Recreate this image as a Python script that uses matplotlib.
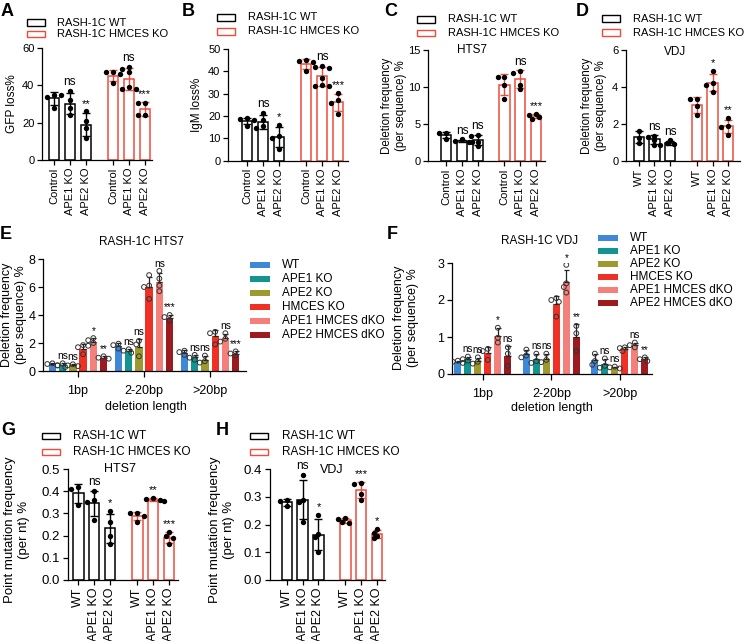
import numpy as np
import matplotlib
matplotlib.use('Agg')
import matplotlib.pyplot as plt
from matplotlib.patches import Rectangle

plt.rcParams['font.family'] = ['Liberation Sans', 'DejaVu Sans']
plt.rcParams['axes.linewidth'] = 0.9

# ---------------- DATA ----------------
series_names = ['RASH-1C WT', 'RASH-1C HMCES KO']
labels_ctrl = ['Control', 'APE1 KO', 'APE2 KO']
labels_wt = ['WT', 'APE1 KO', 'APE2 KO']

# Panel A: GFP loss%
A_wt = [[35, 34, 28, 35], [37, 32, 28, 24], [26, 21, 17, 12]]
A_ko = [[47, 47, 46, 41], [50, 49, 47, 39, 38, 38], [30.5, 30.5, 24, 24]]
A_sig_wt = ['', 'ns', '**']
A_sig_ko = ['', 'ns', '***']

# Panel B: IgM loss%
B_wt = [[19, 18.5, 18, 15.5], [21.5, 18, 15.5, 14.5], [16, 11, 10, 5]]
B_ko = [[45, 44.5, 44, 40], [42.5, 42, 41.5, 37, 34, 33.5, 33.5], [30.5, 27, 26, 21]]
B_sig_wt = ['', 'ns', '*']
B_sig_ko = ['', 'ns', '***']

# Panel C: deletion frequency HTS7
C_wt = [[3.8, 3.7, 3.0], [2.9, 2.7, 2.6, 2.5], [3.5, 3.3, 2.6, 2.0]]
C_ko = [[11.4, 11.3, 10.3, 8.3], [12.2, 11.9, 10.3, 9.7], [6.3, 6.2, 5.9, 5.7]]
C_sig_wt = ['', 'ns', 'ns']
C_sig_ko = ['', 'ns', '***']

# Panel D: deletion frequency VDJ
D_wt = [[1.6, 1.25, 0.95], [1.35, 1.3, 1.1, 0.85], [1.1, 0.95, 0.9, 0.85]]
D_ko = [[3.35, 3.35, 2.95, 2.45], [4.85, 4.2, 4.1, 3.75], [2.3, 1.9, 1.85, 1.4]]
D_sig_wt = ['', 'ns', 'ns']
D_sig_ko = ['', '*', '**']

# Panel G: point mutation HTS7
G_wt = [[0.42, 0.41, 0.34], [0.40, 0.36, 0.35, 0.27], [0.31, 0.26, 0.20, 0.16]]
G_ko = [[0.30, 0.30, 0.29, 0.26], [0.37, 0.365, 0.36, 0.355], [0.215, 0.20, 0.19, 0.16]]
G_sig_wt = ['', 'ns', '*']
G_sig_ko = ['', '**', '***']

# Panel H: point mutation VDJ
H_wt = [[0.29, 0.285, 0.265], [0.38, 0.29, 0.28, 0.21], [0.235, 0.165, 0.155, 0.10]]
H_ko = [[0.225, 0.22, 0.21, 0.205], [0.35, 0.345, 0.31, 0.29], [0.185, 0.17, 0.16, 0.15]]
H_sig_wt = ['', 'ns', '*']
H_sig_ko = ['', '***', '*']

# Panels E/F: grouped by deletion length
genotypes = ['WT', 'APE1 KO', 'APE2 KO', 'HMCES KO', 'APE1 HMCES dKO', 'APE2 HMCES dKO']
geno_colors = ['#3F88D6', '#12948F', '#9C9A2E', '#EE3124', '#F4807C', '#9B1B1F']
length_groups = ['1bp', '2-20bp', '>20bp']

E_dots = [  # [group][genotype] replicate values
    [[0.55, 0.5, 0.4], [0.55, 0.4, 0.28], [0.48, 0.4, 0.35],
     [1.85, 1.7, 1.2], [2.35, 2.2, 2.0, 1.8], [1.05, 0.95, 0.88]],
    [[1.95, 1.85, 1.6], [1.55, 1.45, 1.3], [2.15, 1.9, 1.05],
     [6.85, 6.1, 6.0, 5.15], [7.15, 6.6, 6.1, 5.7], [4.0, 3.85, 3.6]],
    [[1.45, 1.35, 1.15], [1.15, 0.95, 0.8], [1.1, 0.7, 0.6],
     [2.8, 2.7, 1.9], [2.7, 2.3, 2.1], [1.4, 1.25, 1.1]],
]
E_sig = [['', 'ns', 'ns', '', '*', '**'],
         ['', 'ns', 'ns', '', 'ns', '***'],
         ['', 'ns', 'ns', '', 'ns', '***']]

F_dots = [
    [[0.36, 0.33, 0.3], [0.47, 0.4, 0.36], [0.45, 0.33, 0.28],
     [0.68, 0.62, 0.38], [1.25, 0.98, 0.85], [0.72, 0.55, 0.22]],
    [[0.66, 0.5, 0.45], [0.55, 0.35, 0.3], [0.55, 0.38, 0.32],
     [2.05, 2.0, 1.95, 1.55], [2.95, 2.45, 2.35, 2.2], [1.3, 1.1, 0.62]],
    [[0.55, 0.35, 0.25], [0.42, 0.22, 0.17], [0.2, 0.18, 0.15],
     [0.72, 0.7, 0.62], [0.85, 0.78, 0.72], [0.45, 0.4, 0.35]],
]
F_sig = [['', 'ns', 'ns', '', '*', 'ns'],
         ['', 'ns', 'ns', '', '*', '**'],
         ['', 'ns', 'ns', '', 'ns', '**']]

RED = '#EF4B3C'

# ---------------- FIGURE ----------------
W, H = 746, 641
fig = plt.figure(figsize=(W / 100, H / 100), dpi=100)


def fx(x):
    return x / W


def fy(y):
    return 1 - y / H


def add_axes(l, t, r, b):
    ax = fig.add_axes([l / W, 1 - b / H, (r - l) / W, (b - t) / H])
    ax.spines['top'].set_visible(False)
    ax.spines['right'].set_visible(False)
    ax.tick_params(direction='out', length=3.5, width=0.9, pad=2)
    return ax


def swarm(ax, x0, vals, diam_px, step):
    """Place dots side by side when they would overlap (display-space check)."""
    placed = []
    xs = []
    bbox = ax.get_window_extent()
    x0l, x1l = ax.get_xlim()
    y0l, y1l = ax.get_ylim()
    pxx = bbox.width / (x1l - x0l)
    pxy = bbox.height / (y1l - y0l)
    cands = [0, -1, 1, -2, 2, -3, 3]
    for v in vals:
        for c in cands:
            xx = x0 + c * step
            ok = True
            for (px_, py_) in placed:
                if ((xx - px_) * pxx) ** 2 + ((v - py_) * pxy) ** 2 < (diam_px * 0.95) ** 2:
                    ok = False
                    break
            if ok:
                break
        placed.append((xx, v))
        xs.append(xx)
    return np.array(xs)


POS = np.array([0, 1, 2, 3.7, 4.7, 5.7])


def open_panel(ax, wt, ko, sig_wt, sig_ko, labels, ymax, ystep, xlim, yfmt='{:g}',
               yfs=7.5, xfs=8, sfs=8.5):
    ax.set_xlim(*xlim)
    ax.set_ylim(0, ymax)
    rng = ymax
    for grp, (dots_list, sigs, col) in enumerate([(wt, sig_wt, 'black'), (ko, sig_ko, RED)]):
        pos = POS[grp * 3:(grp + 1) * 3]
        means = np.array([np.mean(d) for d in dots_list])
        sds = np.array([np.std(d, ddof=1) for d in dots_list])
        ax.bar(pos, means, width=0.65, facecolor='white', edgecolor=col, linewidth=1.1, zorder=2)
        ax.errorbar(pos, means, yerr=sds, fmt='none', ecolor=col, elinewidth=1.0,
                    capsize=3.2, capthick=1.0, zorder=3)
        for p, d, s, m, sd in zip(pos, dots_list, sigs, means, sds):
            xs = swarm(ax, p, d, 4.6, 0.22)
            ax.scatter(xs, d, s=15, color='black', zorder=4, linewidths=0)
            if s:
                top = max(m + sd, max(d))
                ax.text(p, top + 0.025 * rng, s, ha='center', va='bottom',
                        fontsize=sfs if s == 'ns' else sfs - 0.5, zorder=5)
    ax.set_xticks(POS)
    ax.set_xticklabels(list(labels) * 2, rotation=90, fontsize=xfs)
    ticks = np.arange(0, ymax + ystep / 2, ystep)
    ax.set_yticks(ticks)
    ax.set_yticklabels([yfmt.format(t) for t in ticks], fontsize=yfs)
    ax.spines['left'].set_bounds(0, ymax)


def open_legend(xp, y1, y2, xt, fs=8):
    for y, col, lab in [(y1, 'black', series_names[0]), (y2, RED, series_names[1])]:
        fig.patches.append(Rectangle((fx(xp), fy(y + 3)), 18 / W, 6 / H, transform=fig.transFigure,
                                     facecolor='white', edgecolor=col, linewidth=1.0))
        fig.text(fx(xt), fy(y), lab, ha='left', va='center', fontsize=fs)


def letter(x, y, s):
    fig.text(fx(x), fy(y), s, fontsize=13, fontweight='bold', ha='left', va='top')


def ylabel(x, y, s, fs=8):
    fig.text(fx(x), fy(y), s, rotation=90, ha='center', va='center', fontsize=fs,
             multialignment='center', linespacing=1.15)


# ---- A ----
axA = add_axes(42, 48, 152, 160)
open_panel(axA, A_wt, A_ko, A_sig_wt, A_sig_ko, labels_ctrl, 60, 20, (-0.75, 6.15), yfs=8)
letter(1, 3, 'A')
open_legend(27, 22.5, 34, 57)
ylabel(12, 104, 'GFP loss%', 8.5)

# ---- B ----
axB = add_axes(228, 49, 348, 160.6)
open_panel(axB, B_wt, B_ko, B_sig_wt, B_sig_ko, labels_ctrl, 50, 10, (-1.19, 6.33), yfs=8)
letter(182, 3, 'B')
open_legend(217, 17.5, 31.5, 248)
ylabel(197, 105, 'IgM loss%', 8.5)

# ---- C ----
axC = add_axes(428, 50, 545, 160.7)
open_panel(axC, C_wt, C_ko, C_sig_wt, C_sig_ko, labels_ctrl, 15, 5, (-1.16, 6.28), yfs=8)
letter(384, 3, 'C')
open_legend(417, 19.5, 33, 448)
ylabel(394, 106, 'Deletion frequency\n(per sequence) %', 8.3)
fig.text(fx(472), fy(50), 'HTS7', ha='center', va='center', fontsize=8.5)

# ---- D ----
axD = add_axes(626, 50, 740, 160.7)
open_panel(axD, D_wt, D_ko, D_sig_wt, D_sig_ko, labels_wt, 6, 2, (-0.81, 6.45), yfs=8)
letter(576, 3, 'D')
open_legend(602, 18.5, 32.5, 633)
ylabel(594, 106, 'Deletion frequency\n(per sequence) %', 8.3)
fig.text(fx(675), fy(52), 'VDJ', ha='center', va='center', fontsize=8.5)

# ---- G ----
axG = add_axes(68, 469, 178, 580)
open_panel(axG, G_wt, G_ko, G_sig_wt, G_sig_ko, labels_wt, 0.5, 0.1, (-0.65, 6.25), '{:.1f}',
           yfs=9.5, xfs=9, sfs=8.5)
letter(1, 422, 'G')
open_legend(42, 436, 452, 73, 8.5)
ylabel(17, 530, 'Point mutation frequency\n(per nt) %', 9.5)
fig.text(fx(120), fy(469), 'HTS7', ha='center', va='center', fontsize=9)

# ---- H ----
axH = add_axes(270, 469, 385, 580)
open_panel(axH, H_wt, H_ko, H_sig_wt, H_sig_ko, labels_wt, 0.4, 0.1, (-1.06, 6.2), '{:.1f}',
           yfs=9.5, xfs=9, sfs=8.5)
letter(216, 422, 'H')
open_legend(250, 436, 452, 282, 8.5)
ylabel(222, 530, 'Point mutation frequency\n(per nt) %', 9.5)
fig.text(fx(332), fy(470), 'VDJ', ha='center', va='center', fontsize=9)


# ---- E / F ----
def grouped_panel(ax, dots, sigs, ymax, ystep, xlim, off, width, sigfs=7.5):
    ax.set_xlim(*xlim)
    ax.set_ylim(0, ymax)
    for g in range(len(length_groups)):
        for k in range(len(genotypes)):
            d = dots[g][k]
            m = np.mean(d)
            sd = np.std(d, ddof=1)
            x = g + (k - 2.5) * off
            ax.bar(x, m, width=width, color=geno_colors[k], zorder=2, linewidth=0)
            ax.errorbar([x], [m], yerr=[[0], [sd]], fmt='none', ecolor='#222222', elinewidth=0.9,
                        capsize=1.8, capthick=0.9, zorder=3)
            xs = swarm(ax, x, d, 4.0, off * 0.25)
            ax.scatter(xs, d, s=12, facecolor='none', edgecolor='#333333', linewidths=0.7, zorder=4)
            s = sigs[g][k]
            if s:
                top = max(m + sd, max(d))
                ax.text(x, top + 0.02 * ymax, s, ha='center', va='bottom', fontsize=sigfs, zorder=5)
    ax.set_xticks(range(len(length_groups)))
    ax.set_xticklabels(length_groups, fontsize=9)
    ax.tick_params(axis='x', length=4, pad=6)
    ticks = np.arange(0, ymax + ystep / 2, ystep)
    ax.set_yticks(ticks)
    ax.set_yticklabels(['{:g}'.format(t) for t in ticks], fontsize=9)
    ax.spines['left'].set_bounds(0, ymax)


def geno_legend(xp, y0, dy, xt):
    for k, (lab, col) in enumerate(zip(genotypes, geno_colors)):
        y = y0 + k * dy
        fig.patches.append(Rectangle((fx(xp), fy(y + 3)), 20 / W, 6 / H, transform=fig.transFigure,
                                     facecolor=col, edgecolor='none'))
        fig.text(fx(xt), fy(y), lab, ha='left', va='center', fontsize=8.5)


axE = add_axes(43, 259, 246, 371)
grouped_panel(axE, E_dots, E_sig, 8, 2, (-0.53, 2.545), 0.155, 0.11, 7.3)
letter(0, 226, 'E')
fig.text(fx(141), fy(242), 'RASH-1C HTS7', ha='center', va='center', fontsize=8.5)
fig.text(fx(146), fy(407), 'deletion length', ha='center', va='center', fontsize=9)
ylabel(14, 315, 'Deletion frequency\n(per sequence) %', 9)
geno_legend(250, 265, 14, 282)

axF = add_axes(452, 263, 652, 374)
grouped_panel(axF, F_dots, F_sig, 3, 1, (-0.45, 2.47), 0.146, 0.105, 7.0)
letter(387, 226, 'F')
fig.text(fx(540), fy(241), 'RASH-1C VDJ', ha='center', va='center', fontsize=8.5)
fig.text(fx(552), fy(408), 'deletion length', ha='center', va='center', fontsize=9)
ylabel(406, 318, 'Deletion frequency\n(per sequence) %', 9)
geno_legend(598, 238, 13, 630)

fig.savefig('out.png', dpi=100)
